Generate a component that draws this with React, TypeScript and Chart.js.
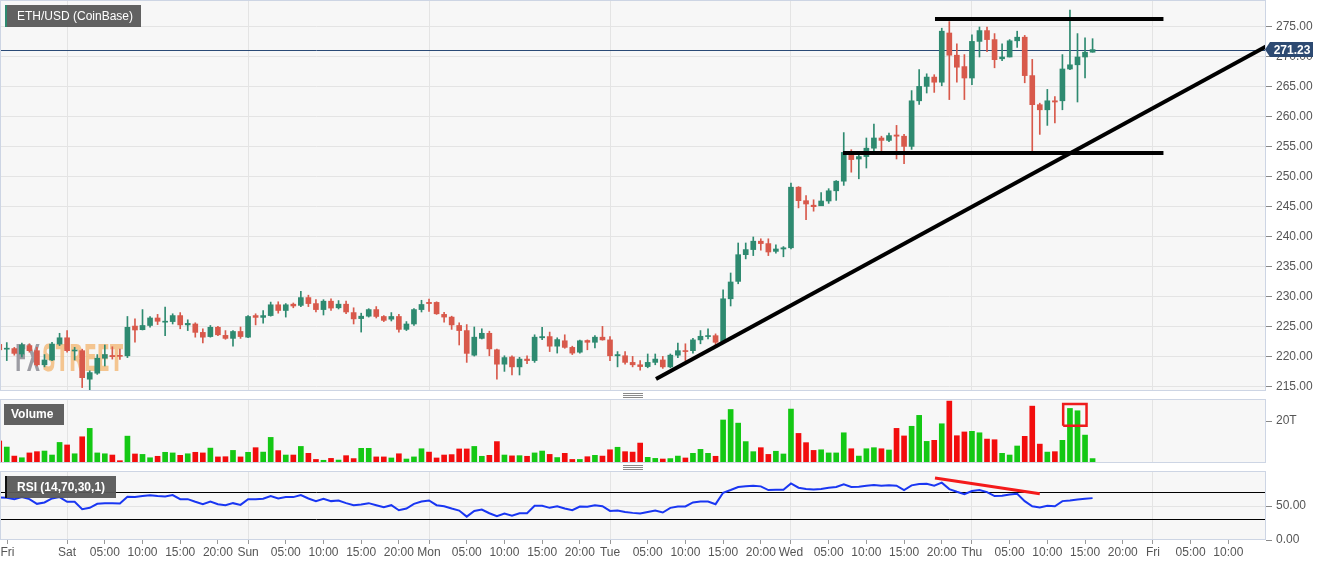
import React, { useEffect, useRef } from 'react';
import { Chart, registerables } from 'chart.js';

Chart.register(...registerables);

// ---------- data (hourly candles, hour 0 = Sat 00:00) ----------
const FIRST_HOUR = -9;

const OPEN = [
  222.1, 221.3, 221.4, 220.5, 221.9, 221.05, 218.7, 219.5, 222.15, 223.2,
  221.0, 221.05, 216.3, 217.3, 219.8, 220.25, 220.2, 220.2, 225.15, 224.55,
  225.25, 226.5, 225.8, 225.9, 226.9, 225.35, 225.5, 224.1, 223.4, 224.95,
  223.6, 223.1, 224.25, 223.3, 226.9, 226.6, 226.9, 228.7, 227.75, 228.8,
  228.6, 229.9, 228.9, 227.9, 229.3, 228.2, 228.8, 227.4, 226.4, 226.8,
  227.9, 226.75, 226.3, 226.75, 224.6, 225.5, 227.9, 229.1, 229.1, 227.1,
  226.65, 225.25, 224.4, 220.3, 223.1, 223.95, 221.2, 218.8, 220.0, 218.35,
  219.65, 219.4, 223.2, 223.4, 221.8, 222.7, 221.6, 220.8, 222.75, 222.45,
  223.3, 222.85, 220.2, 220.2, 219.1, 218.7, 218.4, 219.1, 219.5, 218.35,
  220.3, 221.05, 221.05, 222.85, 223.4, 223.55, 222.45, 229.7, 232.6, 237.05,
  237.9, 239.3, 238.9, 237.6, 238.0, 238.2, 248.3, 246.05, 245.3, 245.2,
  246.0, 247.7, 249.3, 253.7, 253.0, 253.4, 254.8, 256.5, 256.1, 257.0,
  256.8, 255.1, 262.7, 265.1, 266.65, 265.8, 274.0, 270.3, 268.4, 266.5,
  272.6, 274.4, 272.9, 269.7, 270.0, 272.7, 273.3, 266.9, 262.05, 261.2,
  262.7, 262.7, 268.0, 268.7, 270.0, 270.8,
];
const HIGH = [
  223.0, 222.4, 221.6, 222.3, 222.2, 221.6, 220.4, 222.45, 223.95, 224.4,
  221.6, 221.3, 217.7, 220.4, 222.0, 221.7, 221.3, 226.75, 226.35, 227.9,
  226.75, 227.1, 228.3, 227.2, 227.4, 226.2, 225.7, 224.7, 225.25, 225.1,
  224.4, 224.4, 225.0, 226.9, 227.2, 227.75, 229.15, 229.2, 228.9, 229.0,
  230.95, 230.3, 229.55, 229.55, 229.7, 229.4, 229.3, 228.2, 227.3, 228.05,
  228.4, 226.9, 227.4, 227.1, 225.9, 228.05, 229.45, 229.65, 229.2, 227.45,
  226.8, 225.7, 225.4, 225.0, 224.7, 224.3, 221.3, 220.2, 220.2, 219.95,
  220.2, 223.7, 224.95, 224.15, 223.2, 223.7, 221.8, 222.8, 222.85, 223.55,
  225.1, 223.4, 220.9, 220.9, 220.1, 219.4, 220.5, 220.5, 220.1, 220.5,
  222.3, 222.2, 223.1, 224.4, 224.7, 223.85, 231.2, 234.0, 239.0, 239.0,
  240.0, 239.7, 239.7, 238.7, 238.4, 249.0, 248.4, 246.9, 246.2, 247.4,
  248.05, 249.4, 257.4, 254.55, 253.7, 256.5, 258.8, 256.8, 257.3, 258.6,
  257.1, 264.4, 267.9, 267.2, 267.05, 274.8, 275.9, 272.2, 270.4, 273.7,
  275.0, 275.0, 273.9, 272.2, 272.9, 274.3, 273.6, 269.6, 262.3, 264.6,
  263.4, 270.4, 277.8, 273.9, 273.2, 273.05,
];
const LOW = [
  220.2, 219.4, 220.3, 220.0, 220.8, 218.5, 218.35, 219.4, 221.9, 220.8,
  219.5, 214.9, 214.2, 217.1, 218.5, 219.65, 219.6, 219.9, 222.45, 224.5,
  224.95, 225.4, 223.55, 225.5, 224.7, 224.4, 223.3, 222.35, 223.3, 223.55,
  222.95, 221.8, 223.1, 223.2, 225.35, 225.65, 226.8, 227.3, 226.65, 228.2,
  228.4, 228.4, 227.5, 227.0, 227.75, 228.0, 227.2, 225.5, 224.15, 226.65,
  226.5, 225.9, 226.0, 224.15, 224.4, 225.25, 227.5, 227.6, 227.1, 225.8,
  224.6, 222.0, 219.1, 220.15, 223.0, 220.2, 216.3, 217.6, 217.0, 217.0,
  218.9, 219.1, 222.9, 220.9, 220.65, 221.45, 220.4, 220.65, 221.2, 221.5,
  222.8, 219.4, 218.35, 218.8, 218.35, 217.8, 218.2, 218.7, 218.1, 218.2,
  219.9, 219.4, 220.65, 222.2, 223.0, 222.05, 222.3, 228.5, 232.2, 236.35,
  236.9, 237.8, 236.9, 237.3, 236.7, 238.0, 244.85, 242.9, 244.3, 245.2,
  245.6, 246.1, 248.6, 250.8, 249.7, 251.5, 254.3, 254.3, 255.9, 253.0,
  252.2, 254.6, 262.1, 264.0, 264.1, 265.2, 262.9, 265.8, 262.9, 265.4,
  270.0, 270.9, 268.2, 269.4, 270.0, 271.6, 265.7, 254.3, 257.1, 258.6,
  259.0, 261.2, 267.9, 262.5, 266.5, 270.8,
];
const CLOSE = [
  221.2, 221.4, 220.6, 222.0, 221.05, 218.7, 219.5, 222.15, 223.2, 221.05,
  221.1, 216.55, 217.4, 219.8, 220.4, 220.05, 220.1, 224.95, 224.5, 225.25,
  226.5, 225.95, 225.9, 226.9, 225.35, 225.6, 224.1, 223.3, 224.95, 223.7,
  223.1, 224.25, 223.4, 226.75, 226.6, 226.9, 228.7, 227.75, 228.7, 228.5,
  229.9, 228.9, 227.9, 229.3, 228.15, 228.8, 227.5, 226.35, 226.8, 227.9,
  226.75, 226.1, 226.75, 224.6, 225.5, 227.9, 228.75, 228.9, 227.2, 226.65,
  225.35, 224.4, 220.6, 223.3, 223.95, 221.35, 218.8, 219.9, 218.35, 219.65,
  219.4, 223.3, 223.4, 221.8, 222.9, 221.6, 220.65, 222.7, 222.45, 223.3,
  222.85, 220.2, 220.4, 219.1, 218.7, 218.4, 219.1, 219.65, 218.35, 220.3,
  221.05, 220.9, 222.85, 223.45, 223.55, 222.45, 229.7, 232.5, 237.05, 237.9,
  239.3, 238.9, 237.5, 238.0, 238.2, 248.3, 246.05, 245.5, 245.05, 246.0,
  247.7, 249.3, 254.1, 252.9, 253.4, 254.8, 256.5, 256.1, 256.9, 256.8,
  255.1, 262.7, 265.1, 266.65, 265.8, 274.3, 270.3, 268.3, 266.5, 272.6,
  274.4, 272.9, 269.55, 270.0, 272.7, 273.3, 266.9, 262.05, 261.2, 262.7,
  262.5, 268.0, 268.7, 270.0, 270.8, 271.23,
];
const VOLUME = [
  10.5, 7.6, 3.3, 2.5, 4.8, 5.4, 5.7, 3.8, 9.8, 8.6,
  4.4, 12.5, 16.5, 4.8, 4.4, 3.8, 1.1, 12.8, 4.3, 4.1,
  2.5, 3.2, 5.1, 4.8, 3.65, 4.4, 5.1, 4.8, 7.1, 2.9,
  3.0, 6.0, 2.9, 5.1, 7.3, 5.2, 12.2, 5.9, 3.8, 3.8,
  7.9, 4.6, 1.7, 1.3, 2.2, 1.4, 3.5, 2.1, 7.0, 7.0,
  2.9, 2.9, 2.4, 4.4, 1.9, 2.9, 6.8, 5.2, 2.4, 3.8,
  4.0, 6.7, 6.7, 7.9, 3.2, 3.65, 10.2, 3.8, 3.4, 3.5,
  3.2, 4.8, 5.7, 4.1, 2.6, 4.6, 1.7, 1.7, 3.0, 3.65,
  3.3, 6.3, 7.5, 5.4, 5.2, 9.5, 2.7, 2.2, 1.9, 2.1,
  3.3, 2.4, 4.6, 6.5, 4.6, 3.2, 20.5, 25.5, 19.0, 10.2,
  5.4, 7.3, 4.1, 5.6, 4.3, 25.7, 14.1, 9.7, 6.0, 6.3,
  4.8, 4.8, 14.4, 6.8, 3.3, 6.8, 7.3, 6.8, 6.2, 16.5,
  12.9, 17.5, 22.7, 10.3, 10.8, 18.7, 29.5, 13.0, 14.8, 15.1,
  14.4, 11.4, 11.1, 4.6, 3.8, 8.1, 12.7, 27.1, 9.0, 5.2,
  5.4, 10.8, 26.0, 24.9, 13.3, 2.1,
];
const RSI = [
  62.6, 62.1, 60.1, 63.1, 60.1, 53.2, 55.2, 61.1, 63.1, 56.2,
  56.2, 45.3, 47.3, 53.2, 54.2, 54.2, 53.7, 63.6, 63.1, 64.6,
  66.0, 64.6, 64.1, 66.0, 60.1, 60.1, 56.2, 52.7, 56.7, 52.7,
  51.2, 54.2, 51.7, 60.1, 60.1, 60.6, 64.6, 61.1, 63.1, 63.1,
  66.0, 61.1, 57.2, 60.6, 57.2, 58.1, 54.2, 51.2, 52.2, 54.2,
  51.2, 48.3, 51.2, 43.8, 46.3, 53.2, 56.7, 58.1, 51.2, 49.7,
  46.3, 43.3, 34.4, 42.8, 44.8, 39.4, 34.9, 38.9, 35.9, 39.4,
  39.4, 50.2, 50.2, 47.3, 49.7, 46.3, 43.8, 49.3, 48.8, 51.2,
  49.7, 42.8, 43.3, 41.3, 39.9, 38.9, 41.3, 43.3, 40.4, 47.3,
  49.3, 49.3, 55.2, 56.7, 56.7, 52.7, 69.5, 73.5, 77.9, 78.9,
  79.9, 78.9, 73.5, 74.0, 74.0, 83.3, 76.9, 74.9, 74.4, 74.9,
  76.9, 77.9, 81.9, 77.9, 78.4, 79.9, 80.9, 79.9, 80.4, 79.9,
  73.5, 80.4, 82.4, 82.8, 79.9, 84.3, 74.9, 71.0, 67.5, 72.0,
  73.5, 70.5, 64.6, 65.1, 67.0, 68.0, 57.2, 49.7, 47.8, 50.2,
  49.7, 57.2, 58.1, 59.6, 60.6, 61.6,
];
const HOURS = OPEN.map((_, i) => FIRST_HOUR + i);

// ---------- axes ----------
const X_MIN = -8.9;
const X_MAX = 159;
const X_TICK_HOURS = [
  -7.9, 0, 5, 10, 15, 20, 24, 29, 34, 39, 44, 48, 53, 58, 63, 68,
  72, 77, 82, 87, 92, 96, 101, 106, 111, 116, 120, 125, 130, 135, 140,
  144, 149, 154,
];
const X_TICK_LABELS = [
  'Fri', 'Sat', '05:00', '10:00', '15:00', '20:00', 'Sun', '05:00', '10:00', '15:00', '20:00',
  'Mon', '05:00', '10:00', '15:00', '20:00', 'Tue', '05:00', '10:00', '15:00', '20:00',
  'Wed', '05:00', '10:00', '15:00', '20:00', 'Thu', '05:00', '10:00', '15:00', '20:00',
  'Fri', '05:00', '10:00',
];
const DAY_GRID_HOURS = [0, 24, 48, 72, 96, 120, 144];

const PRICE_MIN = 214.33;
const PRICE_MAX = 279.5;
const PRICE_TICKS = [215, 220, 225, 230, 235, 240, 245, 250, 255, 260, 265, 270, 275];
const LAST_PRICE = 271.23;

const VOL_MAX = 30.5;
const VOL_TICKS = [20];
const VOL_TICK_LABELS = ['20T'];

const RSI_MAX = 101.5;
const RSI_LEVELS = [0, 30, 50, 70];
const RSI_BAND_LEVELS = [30, 70];
const RSI_LABELLED = [0, 50];

// ---------- drawn annotations ----------
const RESIST_X = [115.1, 145.4];
const RESIST_Y = [276.35, 276.35];
const SUPPORT_X = [102.9, 145.4];
const SUPPORT_Y = [254.0, 254.0];
const TREND_X = [78.1, 159];
const TREND_Y = [216.33, 271.75];
const RSI_DIV_X = [115.1, 129.0];
const RSI_DIV_Y = [91.3, 67.9];
const VOL_BOX_X = [132.1, 132.1, 135.2, 135.2, 132.1];
const VOL_BOX_Y = [17.8, 28.1, 28.1, 17.8, 17.8];

// ---------- styling ----------
const FONT = "'Liberation Sans', Arial, sans-serif";
const GREEN = '#2e8a70';
const RED = '#d8594b';
const VOL_GREEN = '#14c814';
const VOL_RED = '#f20d0d';
const GRID = '#e4e4e4';
const AXIS_TEXT = '#555555';

const up = CLOSE.map((c, i) => c >= OPEN[i]);
const candleColors = up.map((u) => (u ? GREEN : RED));
const volColors = up.map((u) => (u ? VOL_GREEN : VOL_RED));

const pts = (xs: number[], ys: number[]) => xs.map((x, i) => ({ x, y: ys[i] }));

const panelPlugin = {
  id: 'panelBg',
  beforeDraw(chart: any) {
    const { ctx, chartArea: a } = chart;
    ctx.save();
    ctx.fillStyle = '#f7f7f7';
    ctx.fillRect(a.left, a.top, a.right - a.left, a.bottom - a.top);
    ctx.restore();
  },
  afterDraw(chart: any) {
    const { ctx, chartArea: a } = chart;
    ctx.save();
    ctx.strokeStyle = '#cdd5e4';
    ctx.lineWidth = 1;
    ctx.strokeRect(a.left + 0.5, a.top + 0.5, a.right - a.left - 1, a.bottom - a.top - 1);
    ctx.restore();
  },
};

const mainExtras = {
  id: 'mainExtras',
  beforeDatasetsDraw(chart: any) {
    const { ctx, chartArea: a } = chart;
    ctx.save();
    // watermark
    ctx.font = `bold 38px 'DejaVu Sans Condensed', 'Liberation Sans Narrow', sans-serif`;
    ctx.textBaseline = 'alphabetic';
    const fit = (t: string, x: number, w: number, color: string) => {
      const m = ctx.measureText(t).width;
      ctx.save();
      ctx.translate(x, 371);
      ctx.scale(w / m, 1);
      ctx.fillStyle = color;
      ctx.fillText(t, 0, 0);
      ctx.restore();
    };
    fit('FX', 15, 25, 'rgba(140,140,148,0.85)');
    fit('STREET', 42, 81, 'rgba(242,184,118,0.8)');
    // last price line
    const y = Math.round(chart.scales.y.getPixelForValue(LAST_PRICE)) + 0.5;
    ctx.strokeStyle = '#2a4a76';
    ctx.lineWidth = 1;
    ctx.beginPath();
    ctx.moveTo(a.left, y);
    ctx.lineTo(a.right, y);
    ctx.stroke();
    ctx.restore();
  },
  afterDraw(chart: any) {
    const { ctx, chartArea: a } = chart;
    const y = chart.scales.y.getPixelForValue(LAST_PRICE);
    ctx.save();
    ctx.fillStyle = '#2d4a72';
    ctx.beginPath();
    ctx.moveTo(a.right - 1, y);
    ctx.lineTo(a.right + 4, y - 7.5);
    ctx.lineTo(a.right + 47, y - 7.5);
    ctx.lineTo(a.right + 47, y + 7.5);
    ctx.lineTo(a.right + 4, y + 7.5);
    ctx.closePath();
    ctx.fill();
    ctx.fillStyle = '#ffffff';
    ctx.font = `bold 12px ${FONT}`;
    ctx.textAlign = 'center';
    ctx.textBaseline = 'middle';
    ctx.fillText(LAST_PRICE.toFixed(2), a.right + 26, y + 1);
    ctx.restore();
  },
};

function xScale(showLabels: boolean) {
  return {
    type: 'linear',
    min: X_MIN,
    max: X_MAX,
    bounds: 'data',
    offset: false,
    afterBuildTicks: (s: any) => {
      s.ticks = (showLabels ? X_TICK_HOURS : DAY_GRID_HOURS).map((v) => ({ value: v }));
    },
    afterFit: (s: any) => {
      s.height = showLabels ? 26 : 0;
      s.paddingLeft = 0;
      s.paddingRight = 0;
    },
    grid: {
      offset: false,
      color: (c: any) => (c.tick && DAY_GRID_HOURS.includes(c.tick.value) ? GRID : 'rgba(0,0,0,0)'),
      drawTicks: showLabels,
      tickLength: 4,
      tickColor: '#999999',
    },
    border: { display: false },
    ticks: {
      display: showLabels,
      autoSkip: false,
      maxRotation: 0,
      minRotation: 0,
      padding: 1,
      color: AXIS_TEXT,
      font: { family: FONT, size: 12 },
      callback: (_v: any, i: number) => X_TICK_LABELS[i],
    },
  };
}

function yScale(min: number, max: number, ticks: number[], label: (v: number) => string, gridColor: any, tickColor: any) {
  return {
    type: 'linear',
    position: 'right',
    min,
    max,
    bounds: 'data',
    afterBuildTicks: (s: any) => {
      s.ticks = ticks.map((v) => ({ value: v }));
    },
    afterFit: (s: any) => {
      s.width = 65;
      s.paddingTop = 0;
      s.paddingBottom = 0;
    },
    grid: { color: gridColor, tickColor, tickLength: 6 },
    border: { display: false },
    ticks: {
      color: AXIS_TEXT,
      padding: 4,
      font: { family: FONT, size: 12 },
      callback: (v: any) => label(Number(v)),
    },
  };
}

const baseOptions = (padTop: number, padBottom: number) => ({
  responsive: false,
  animation: false,
  events: [],
  layout: { padding: { top: padTop, bottom: padBottom, left: 0, right: 0 }, autoPadding: false },
  plugins: { legend: { display: false }, tooltip: { enabled: false } },
});

export default function App() {
  const mainRef = useRef<HTMLCanvasElement>(null);
  const volRef = useRef<HTMLCanvasElement>(null);
  const rsiRef = useRef<HTMLCanvasElement>(null);

  useEffect(() => {
    const lineDs = (xs: number[], ys: number[], color: string, width: number, order = 0) => ({
      type: 'line',
      data: pts(xs, ys),
      borderColor: color,
      borderWidth: width,
      pointRadius: 0,
      fill: false,
      tension: 0,
      clip: 0,
      order,
    });

    const main = new Chart(mainRef.current as any, {
      type: 'bar',
      data: {
        datasets: [
          lineDs(TREND_X, TREND_Y, '#000000', 4),
          lineDs(RESIST_X, RESIST_Y, '#000000', 4),
          lineDs(SUPPORT_X, SUPPORT_Y, '#000000', 4),
          {
            type: 'bar',
            data: HOURS.map((h, i) => ({ x: h, y: [OPEN[i], CLOSE[i]] })),
            backgroundColor: candleColors,
            barThickness: 5,
            minBarLength: 1,
            grouped: false,
            order: 1,
          },
          {
            type: 'bar',
            data: HOURS.map((h, i) => ({ x: h, y: [LOW[i], HIGH[i]] })),
            backgroundColor: candleColors,
            barThickness: 1,
            grouped: false,
            order: 2,
          },
        ],
      } as any,
      options: {
        ...baseOptions(0, 9),
        scales: {
          x: xScale(false),
          y: yScale(PRICE_MIN, PRICE_MAX, PRICE_TICKS, (v) => v.toFixed(2), GRID, '#888888'),
        },
      } as any,
      plugins: [panelPlugin, mainExtras],
    });

    const vol = new Chart(volRef.current as any, {
      type: 'bar',
      data: {
        datasets: [
          lineDs(VOL_BOX_X, VOL_BOX_Y, '#ee1c1c', 2.5, 0),
          {
            type: 'bar',
            data: HOURS.map((h, i) => ({ x: h, y: VOLUME[i] })),
            backgroundColor: volColors,
            barThickness: 5,
            grouped: false,
            order: 1,
          },
        ],
      } as any,
      options: {
        ...baseOptions(7, 7),
        scales: {
          x: xScale(false),
          y: yScale(0, VOL_MAX, VOL_TICKS, (v) => VOL_TICK_LABELS[VOL_TICKS.indexOf(v)] || '', 'rgba(0,0,0,0)', '#888888'),
        },
      } as any,
      plugins: [panelPlugin],
    });

    const rsi = new Chart(rsiRef.current as any, {
      type: 'line',
      data: {
        datasets: [
          lineDs(RSI_DIV_X, RSI_DIV_Y, '#f41a1a', 3, 0),
          {
            type: 'line',
            data: pts(HOURS, RSI),
            borderColor: '#1936f2',
            borderWidth: 2,
            pointRadius: 0,
            tension: 0,
            fill: false,
            order: 1,
          },
        ],
      } as any,
      options: {
        ...baseOptions(7, 0),
        scales: {
          x: xScale(true),
          y: yScale(
            0,
            RSI_MAX,
            RSI_LEVELS,
            (v) => (RSI_LABELLED.includes(v) ? v.toFixed(2) : ''),
            (c: any) => {
              const v = c.tick ? c.tick.value : -1;
              if (RSI_BAND_LEVELS.includes(v)) return '#000000';
              if (v === 50) return GRID;
              return 'rgba(0,0,0,0)';
            },
            (c: any) => (c.tick && RSI_LABELLED.includes(c.tick.value) ? '#888888' : 'rgba(0,0,0,0)'),
          ),
        },
      } as any,
      plugins: [panelPlugin],
    });

    return () => {
      main.destroy();
      vol.destroy();
      rsi.destroy();
    };
  }, []);

  const tag = (extra: any) => ({
    position: 'absolute' as const,
    background: 'rgba(88,88,88,0.95)',
    color: '#ffffff',
    fontFamily: FONT,
    fontSize: 12,
    boxSizing: 'border-box' as const,
    whiteSpace: 'nowrap' as const,
    ...extra,
  });
  const grip = (top: number) => ({
    position: 'absolute' as const,
    left: 623,
    top,
    width: 20,
    height: 5,
    background: 'repeating-linear-gradient(to bottom, #8a8a8a 0px, #8a8a8a 1px, transparent 1px, transparent 2px)',
  });

  return (
    <div style={{ position: 'fixed', left: 0, top: 0, width: 1331, height: 566, background: '#ffffff', overflow: 'hidden' }}>
      <canvas ref={mainRef} width={1331} height={400} style={{ position: 'absolute', left: 0, top: 0 }} />
      <canvas ref={volRef} width={1331} height={78} style={{ position: 'absolute', left: 0, top: 392 }} />
      <canvas ref={rsiRef} width={1331} height={102} style={{ position: 'absolute', left: 0, top: 464 }} />
      <div style={tag({ left: 5, top: 5, width: 136, height: 22, lineHeight: '22px', paddingLeft: 10, borderLeft: '2px solid #2e8a70' })}>
        ETH/USD (CoinBase)
      </div>
      <div style={tag({ left: 4, top: 404, width: 60, height: 21, lineHeight: '21px', paddingLeft: 7, fontWeight: 'bold' })}>
        Volume
      </div>
      <div style={tag({ left: 5, top: 476, width: 111, height: 22, lineHeight: '22px', paddingLeft: 10, fontWeight: 'bold', borderLeft: '2px solid #111111' })}>
        RSI (14,70,30,1)
      </div>
      <div style={grip(393)} />
      <div style={grip(465)} />
    </div>
  );
}
